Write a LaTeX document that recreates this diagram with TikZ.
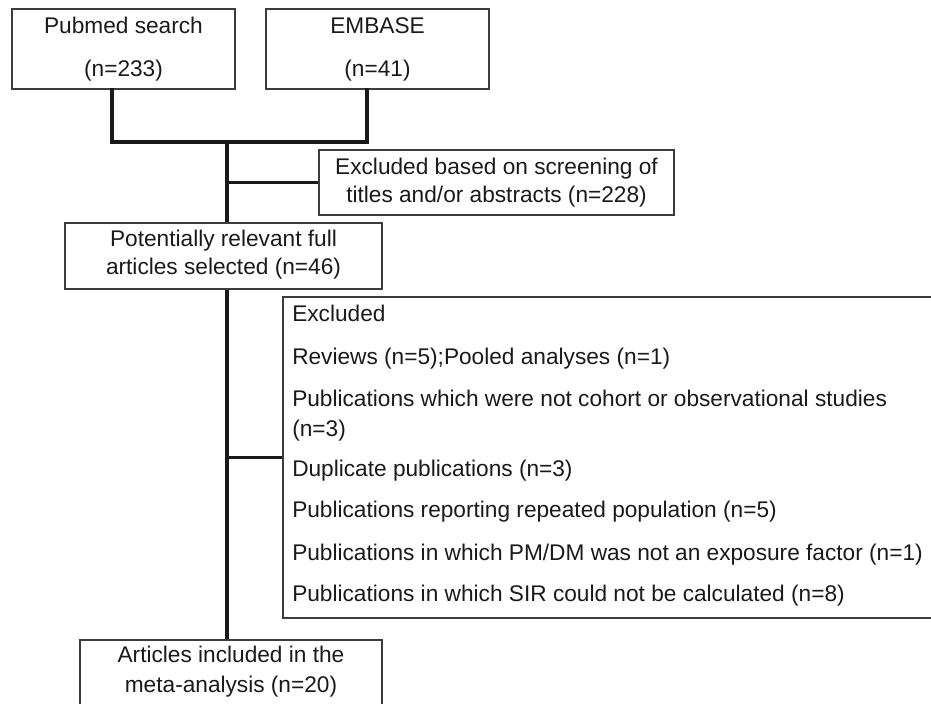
\documentclass[tikz,border=0pt]{standalone}
\usepackage{fontspec}
\setmainfont{Liberation Sans}
\usetikzlibrary{fit}
\definecolor{boxline}{HTML}{3C3C3C}
\definecolor{ink}{HTML}{1A1A1A}
\begin{document}
\begin{tikzpicture}[x=0.75pt,y=-0.75pt,
  box/.style={draw=boxline,line width=1.3pt,inner sep=0pt,fill=none},
  conn/.style={draw=black!90,line width=2.3pt,line cap=rect},
  txt/.style={inner sep=0pt,text height=0.72em,text depth=0pt,text=ink,font=\fontsize{17pt}{20pt}\selectfont},
  lft/.style={txt,anchor=west}]
\useasboundingbox (0,0) rectangle (931,703);
% boxes
\node[box,fit={(12,9) (235,89)}] (pub) {};
\node[box,fit={(266,9) (489,89)}] (emb) {};
\node[box,fit={(319,150) (674,215)}] (exc) {};
\node[box,fit={(65,223) (382,289)}] (pot) {};
\node[box,fit={(283,297) (934,618)}] (big) {};
\node[box,fit={(80,640) (382,706)}] (fin) {};
% texts
\node[txt] (pub1) at (123.5,29) {Pubmed search};
\node[txt] (pub2) at (123.5,72) {(n=233)};
\node[txt] (emb1) at (377.5,29) {EMBASE};
\node[txt] (emb2) at (377.5,72) {(n=41)};
\node[txt] (exc1) at (496.5,170) {Excluded based on screening of};
\node[txt] (exc2) at (496.5,198) {titles and/or abstracts (n=228)};
\node[txt] (pot1) at (223.5,242) {Potentially relevant full};
\node[txt] (pot2) at (223.5,270) {articles selected (n=46)};
\node[lft] (b1) at (292,317) {Excluded};
\node[lft] (b2) at (292,360) {Reviews (n=5);Pooled analyses (n=1)};
\node[lft] (b3) at (292,402) {Publications which were not cohort or observational studies};
\node[lft] (b4) at (292,432) {(n=3)};
\node[lft] (b5) at (292,472) {Duplicate publications (n=3)};
\node[lft] (b6) at (292,513) {Publications reporting repeated population (n=5)};
\node[lft] (b7) at (292,556) {Publications in which PM/DM was not an exposure factor (n=1)};
\node[lft] (b8) at (292,597) {Publications in which SIR could not be calculated (n=8)};
\node[txt] (fin1) at (231,658) {Articles included in the};
\node[txt] (fin2) at (231,688) {meta-analysis (n=20)};
% connectors
\coordinate (pl) at (112,142);
\coordinate (el) at (367,142);
\coordinate (j) at (227,142);
\draw[conn] (pub.south -| pl) -- (pl) -- (el) -- (emb.south -| el);
\draw[conn,line cap=butt] (j) -- (pot.north -| j);
\draw[conn,line cap=butt] (j |- exc.west) -- (exc.west);
\draw[conn,line cap=butt] (pot.south -| j) -- (fin.north -| j);
\draw[conn,line cap=butt] (j |- big.west) -- (big.west);
\end{tikzpicture}
\end{document}
